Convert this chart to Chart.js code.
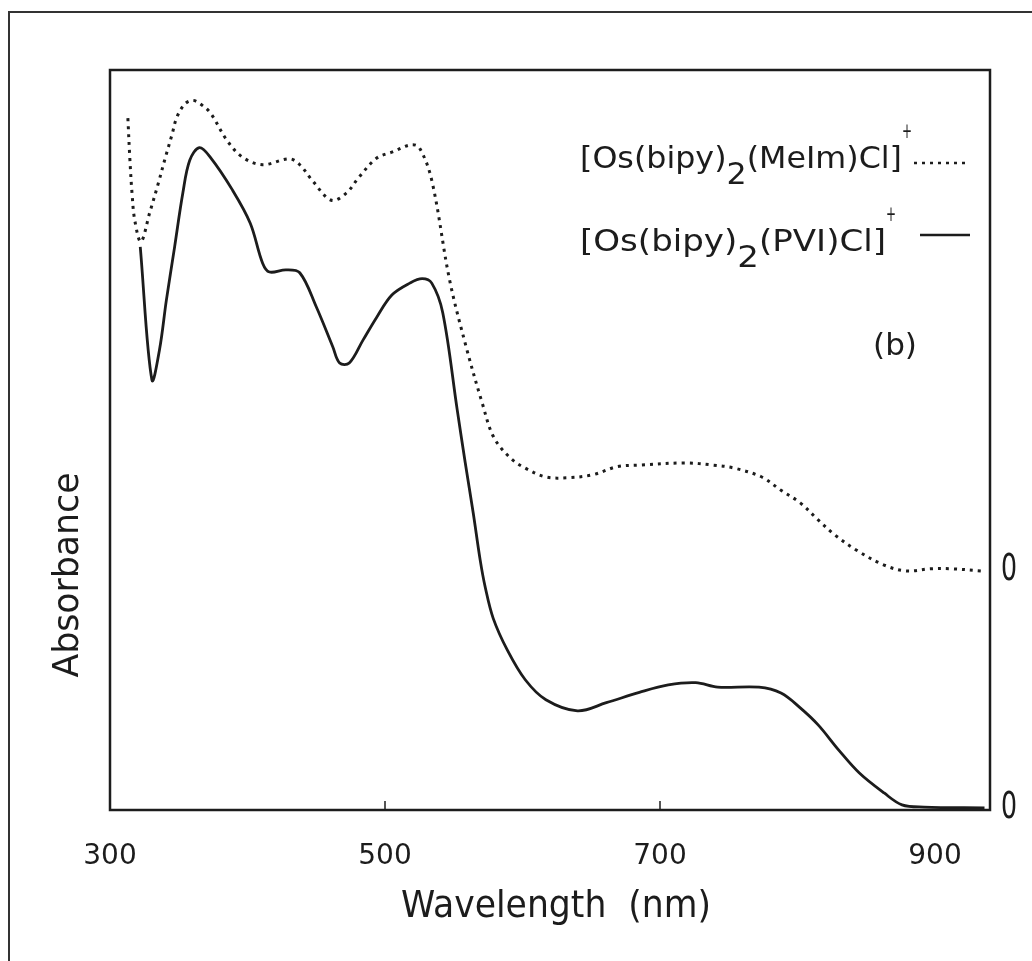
<!DOCTYPE html>
<html>
<head>
<meta charset="utf-8">
<script src="https://cdn.jsdelivr.net/npm/chart.js@4.4.1/dist/chart.umd.min.js"></script>
<style>
  html, body { margin: 0; padding: 0; background: #fff; }
</style>
</head>
<body>
<canvas id="c" width="1032" height="961"></canvas>
<script>
// Absorbance spectra (arbitrary units, both traces share one y axis)
// [Os(bipy)2(PVI)Cl]+  - solid trace, baseline at 0
const pviWavelength = [322, 330.5, 336, 341, 347, 353, 358, 365, 373, 389, 402, 411, 416, 428, 438,
  450, 462, 467, 474, 484, 494, 505, 518, 527, 534, 542, 552.5, 558.3, 564.2, 569.2, 572.9, 578.7,
  589, 602, 617, 640, 661, 685, 706, 726, 742, 772, 788, 802, 815, 830, 845, 863, 876, 892, 936];
const pviAbsorbance = [0.761, 0.581, 0.622, 0.689, 0.761, 0.834, 0.878, 0.895, 0.882, 0.838, 0.793,
  0.739, 0.727, 0.730, 0.726, 0.680, 0.626, 0.604, 0.604, 0.635, 0.666, 0.696, 0.712, 0.718, 0.712,
  0.672, 0.541, 0.470, 0.401, 0.338, 0.301, 0.259, 0.216, 0.176, 0.149, 0.134, 0.145, 0.159, 0.169,
  0.172, 0.166, 0.166, 0.158, 0.138, 0.115, 0.081, 0.050, 0.023, 0.007, 0.004, 0.003];

// [Os(bipy)2(MeIm)Cl]+ - dotted trace, drawn offset (its own zero is at 0.322)
const meimWavelength = [313, 314.5, 316, 318, 322.5, 329, 335, 340, 345, 348.6, 354.4, 360, 365,
  373, 385, 396.5, 411, 430.5, 438, 447, 461, 472, 481, 494, 505, 519, 525, 534, 547, 559, 570.7,
  579, 591, 602, 617, 633, 651, 669, 685, 718, 739, 754, 774, 788, 802, 815, 827, 843, 863, 879,
  897, 912, 934];
const meimAbsorbance = [0.935, 0.878, 0.834, 0.797, 0.768, 0.808, 0.846, 0.880, 0.912, 0.936, 0.954,
  0.959, 0.955, 0.942, 0.905, 0.882, 0.872, 0.880, 0.872, 0.851, 0.824, 0.834, 0.855, 0.881, 0.889,
  0.899, 0.895, 0.851, 0.716, 0.626, 0.550, 0.504, 0.476, 0.462, 0.450, 0.449, 0.453, 0.464, 0.466,
  0.469, 0.466, 0.462, 0.450, 0.432, 0.415, 0.392, 0.372, 0.351, 0.331, 0.323, 0.326, 0.326, 0.323];

const xTicks = [300, 500, 700, 900];
const innerTicks = [500, 700];
const zeroLevels = [0.322, 0];

// legend text pieces: [text, baseline shift, size factor]
const legendMeim = [['[Os(bipy)', 0, 1], ['2', 16, 1], ['(MeIm)Cl]', 0, 1]];
const legendPvi = [['[Os(bipy)', 0, 1], ['2', 16, 1], ['(PVI)Cl]', 0, 1]];

const INK = '#1c1c1c';
const FONT = "'DejaVu Sans', 'Liberation Sans', sans-serif";

function pts(xs, ys) {
  return xs.map((x, i) => ({ x: x, y: ys[i] }));
}

// draws text squeezed horizontally to a given width
function squeezed(ctx, str, x, y, size, width, align) {
  ctx.save();
  ctx.font = size + 'px ' + FONT;
  const w = ctx.measureText(str).width;
  const sx = width / w;
  ctx.translate(x, y);
  ctx.scale(sx, 1);
  ctx.textAlign = align || 'center';
  ctx.textBaseline = 'alphabetic';
  ctx.fillText(str, 0, 0);
  ctx.restore();
}

function richLine(ctx, parts, x, y, size, width) {
  ctx.save();
  let total = 0;
  parts.forEach(p => {
    ctx.font = Math.round(size * p[2]) + 'px ' + FONT;
    total += ctx.measureText(p[0]).width;
  });
  const sx = width / total;
  ctx.translate(x, y);
  ctx.scale(sx, 1);
  ctx.textAlign = 'left';
  ctx.textBaseline = 'alphabetic';
  let cx = 0;
  parts.forEach(p => {
    ctx.font = Math.round(size * p[2]) + 'px ' + FONT;
    ctx.fillText(p[0], cx, p[1]);
    cx += ctx.measureText(p[0]).width;
  });
  ctx.restore();
  return x + width;
}

const decorPlugin = {
  id: 'decor',
  afterDraw(chart) {
    const ctx = chart.ctx;
    const a = chart.chartArea;
    const xs = chart.scales.x;
    const ys = chart.scales.y;
    ctx.save();
    ctx.fillStyle = INK;
    ctx.strokeStyle = INK;

    // outer figure frame (top and left edges show in the scan)
    ctx.strokeStyle = '#333';
    ctx.lineWidth = 2;
    ctx.beginPath();
    ctx.moveTo(1032, 12);
    ctx.lineTo(9, 12);
    ctx.lineTo(9, 961);
    ctx.stroke();

    // plot box
    ctx.strokeStyle = INK;
    ctx.lineWidth = 2.5;
    ctx.strokeRect(a.left, a.top, a.right - a.left, a.bottom - a.top);

    // small inward ticks
    ctx.lineWidth = 1.5;
    innerTicks.forEach(v => {
      const px = xs.getPixelForValue(v);
      ctx.beginPath();
      ctx.moveTo(px, a.bottom);
      ctx.lineTo(px, a.bottom - 9);
      ctx.stroke();
    });

    // zero marks on the right for each trace
    zeroLevels.forEach(v => {
      squeezed(ctx, '0', a.right + 19, ys.getPixelForValue(v) + 8, 38, 16, 'center');
    });

    // axis titles
    squeezed(ctx, 'Wavelength  (nm)', 556, 917, 38, 310, 'center');
    ctx.save();
    ctx.translate(78, 575);
    ctx.rotate(-Math.PI / 2);
    squeezed(ctx, 'Absorbance', 0, 0, 36, 205, 'center');
    ctx.restore();

    // legend
    let end = richLine(ctx, legendMeim, 580, 168, 30, 322);
    squeezed(ctx, '+', end + 5, 138, 22, 10, 'center');
    ctx.lineWidth = 2.5;
    ctx.setLineDash([3, 5]);
    ctx.beginPath();
    ctx.moveTo(914, 163);
    ctx.lineTo(970, 163);
    ctx.stroke();

    end = richLine(ctx, legendPvi, 580, 251, 30, 306);
    squeezed(ctx, '+', end + 5, 221, 22, 10, 'center');
    ctx.setLineDash([]);
    ctx.lineWidth = 2.5;
    ctx.beginPath();
    ctx.moveTo(920, 235);
    ctx.lineTo(970, 235);
    ctx.stroke();

    squeezed(ctx, '(b)', 895, 355, 30, 44, 'center');
    ctx.restore();
  }
};

new Chart(document.getElementById('c'), {
  type: 'line',
  data: {
    datasets: [
      {
        label: '[Os(bipy)\u2082(MeIm)Cl]\u207A',
        data: pts(meimWavelength, meimAbsorbance),
        borderColor: INK,
        borderWidth: 3,
        borderDash: [3, 5],
        pointRadius: 0,
        tension: 0.35,
        fill: false
      },
      {
        label: '[Os(bipy)\u2082(PVI)Cl]\u207A',
        data: pts(pviWavelength, pviAbsorbance),
        borderColor: INK,
        borderWidth: 2.8,
        pointRadius: 0,
        tension: 0.35,
        fill: false
      }
    ]
  },
  options: {
    responsive: false,
    animation: false,
    layout: { padding: { left: 110, right: 42, top: 70, bottom: 0 } },
    plugins: {
      legend: { display: false },
      tooltip: { enabled: false }
    },
    scales: {
      x: {
        type: 'linear',
        min: 300,
        max: 940,
        afterBuildTicks: s => { s.ticks = xTicks.map(v => ({ value: v })); },
        afterFit: s => { s.height = 151; },
        grid: { display: false, drawTicks: false },
        border: { display: false },
        ticks: {
          padding: 30,
          color: INK,
          font: { family: FONT, size: 28 },
          maxRotation: 0,
          autoSkip: false,
          callback: v => String(v)
        }
      },
      y: {
        display: false,
        min: 0,
        max: 1
      }
    }
  },
  plugins: [decorPlugin]
});
</script>
</body>
</html>
